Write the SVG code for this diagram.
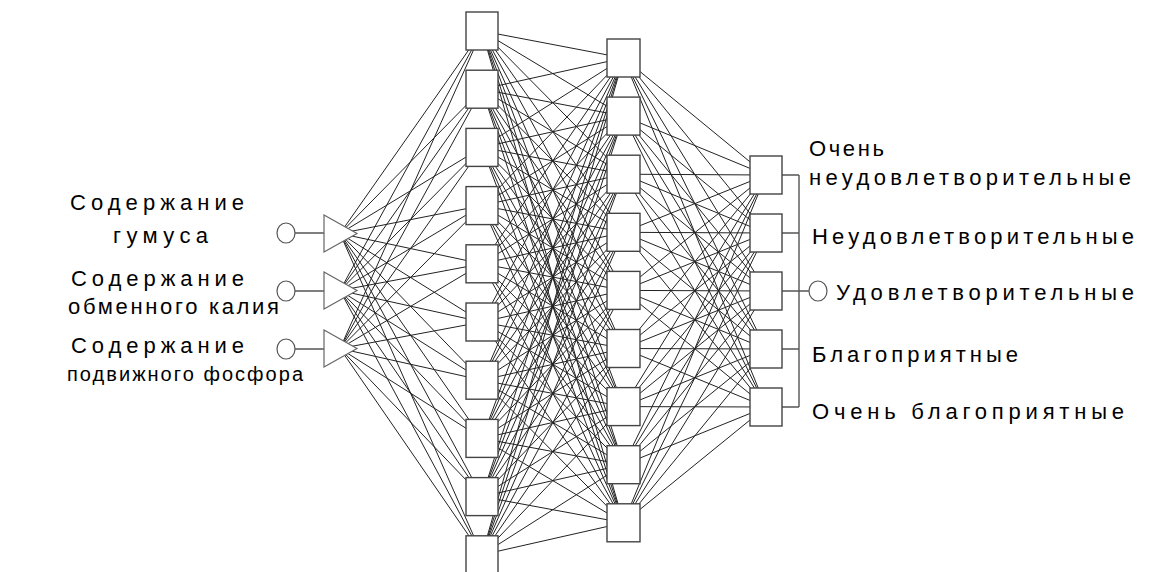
<svg xmlns="http://www.w3.org/2000/svg" width="1154" height="572" viewBox="0 0 1154 572">
<style>
.bg{fill:#fff}
.c{fill:none;stroke:#222;stroke-width:1}
.box{fill:#fff;stroke:#444;stroke-width:1.4}
.tri{fill:#fff;stroke:#666;stroke-width:1.2}
.circ{fill:#fff;stroke:#555;stroke-width:1.2}
.wire{fill:none;stroke:#555;stroke-width:1.4}
.t{font-family:"Liberation Sans",Arial,sans-serif;font-size:22px;fill:#000}
</style>
<rect class="bg" x="0" y="0" width="1154" height="572"/>
<g id="connectors">
<path class="c" d="M340 233.5L482 31M340 233.5L482 89.2M340 233.5L482 147.4M340 233.5L482 205.6M340 233.5L482 263.8M340 233.5L482 322M340 233.5L482 380.2M340 233.5L482 438.4M340 233.5L482 496.6M340 233.5L482 554.8"/>
<path class="c" d="M340 290.5L482 31M340 290.5L482 89.2M340 290.5L482 147.4M340 290.5L482 205.6M340 290.5L482 263.8M340 290.5L482 322M340 290.5L482 380.2M340 290.5L482 438.4M340 290.5L482 496.6M340 290.5L482 554.8"/>
<path class="c" d="M340 348.5L482 31M340 348.5L482 89.2M340 348.5L482 147.4M340 348.5L482 205.6M340 348.5L482 263.8M340 348.5L482 322M340 348.5L482 380.2M340 348.5L482 438.4M340 348.5L482 496.6M340 348.5L482 554.8"/>
<path class="c" d="M482 31L623.5 58M482 31L623.5 116.1M482 31L623.5 174.2M482 31L623.5 232.3M482 31L623.5 290.4M482 31L623.5 348.5M482 31L623.5 406.6M482 31L623.5 464.7M482 31L623.5 522.8"/>
<path class="c" d="M482 89.2L623.5 58M482 89.2L623.5 116.1M482 89.2L623.5 174.2M482 89.2L623.5 232.3M482 89.2L623.5 290.4M482 89.2L623.5 348.5M482 89.2L623.5 406.6M482 89.2L623.5 464.7M482 89.2L623.5 522.8"/>
<path class="c" d="M482 147.4L623.5 58M482 147.4L623.5 116.1M482 147.4L623.5 174.2M482 147.4L623.5 232.3M482 147.4L623.5 290.4M482 147.4L623.5 348.5M482 147.4L623.5 406.6M482 147.4L623.5 464.7M482 147.4L623.5 522.8"/>
<path class="c" d="M482 205.6L623.5 58M482 205.6L623.5 116.1M482 205.6L623.5 174.2M482 205.6L623.5 232.3M482 205.6L623.5 290.4M482 205.6L623.5 348.5M482 205.6L623.5 406.6M482 205.6L623.5 464.7M482 205.6L623.5 522.8"/>
<path class="c" d="M482 263.8L623.5 58M482 263.8L623.5 116.1M482 263.8L623.5 174.2M482 263.8L623.5 232.3M482 263.8L623.5 290.4M482 263.8L623.5 348.5M482 263.8L623.5 406.6M482 263.8L623.5 464.7M482 263.8L623.5 522.8"/>
<path class="c" d="M482 322L623.5 58M482 322L623.5 116.1M482 322L623.5 174.2M482 322L623.5 232.3M482 322L623.5 290.4M482 322L623.5 348.5M482 322L623.5 406.6M482 322L623.5 464.7M482 322L623.5 522.8"/>
<path class="c" d="M482 380.2L623.5 58M482 380.2L623.5 116.1M482 380.2L623.5 174.2M482 380.2L623.5 232.3M482 380.2L623.5 290.4M482 380.2L623.5 348.5M482 380.2L623.5 406.6M482 380.2L623.5 464.7M482 380.2L623.5 522.8"/>
<path class="c" d="M482 438.4L623.5 58M482 438.4L623.5 116.1M482 438.4L623.5 174.2M482 438.4L623.5 232.3M482 438.4L623.5 290.4M482 438.4L623.5 348.5M482 438.4L623.5 406.6M482 438.4L623.5 464.7M482 438.4L623.5 522.8"/>
<path class="c" d="M482 496.6L623.5 58M482 496.6L623.5 116.1M482 496.6L623.5 174.2M482 496.6L623.5 232.3M482 496.6L623.5 290.4M482 496.6L623.5 348.5M482 496.6L623.5 406.6M482 496.6L623.5 464.7M482 496.6L623.5 522.8"/>
<path class="c" d="M482 554.8L623.5 58M482 554.8L623.5 116.1M482 554.8L623.5 174.2M482 554.8L623.5 232.3M482 554.8L623.5 290.4M482 554.8L623.5 348.5M482 554.8L623.5 406.6M482 554.8L623.5 464.7M482 554.8L623.5 522.8"/>
<path class="c" d="M623.5 58L766 175M623.5 58L766 233M623.5 58L766 291M623.5 58L766 349M623.5 58L766 407"/>
<path class="c" d="M623.5 116.1L766 175M623.5 116.1L766 233M623.5 116.1L766 291M623.5 116.1L766 349M623.5 116.1L766 407"/>
<path class="c" d="M623.5 174.2L766 175M623.5 174.2L766 233M623.5 174.2L766 291M623.5 174.2L766 349M623.5 174.2L766 407"/>
<path class="c" d="M623.5 232.3L766 175M623.5 232.3L766 233M623.5 232.3L766 291M623.5 232.3L766 349M623.5 232.3L766 407"/>
<path class="c" d="M623.5 290.4L766 175M623.5 290.4L766 233M623.5 290.4L766 291M623.5 290.4L766 349M623.5 290.4L766 407"/>
<path class="c" d="M623.5 348.5L766 175M623.5 348.5L766 233M623.5 348.5L766 291M623.5 348.5L766 349M623.5 348.5L766 407"/>
<path class="c" d="M623.5 406.6L766 175M623.5 406.6L766 233M623.5 406.6L766 291M623.5 406.6L766 349M623.5 406.6L766 407"/>
<path class="c" d="M623.5 464.7L766 175M623.5 464.7L766 233M623.5 464.7L766 291M623.5 464.7L766 349M623.5 464.7L766 407"/>
<path class="c" d="M623.5 522.8L766 175M623.5 522.8L766 233M623.5 522.8L766 291M623.5 522.8L766 349M623.5 522.8L766 407"/>
<path class="wire" d="M295 233H324M295 291H324M295 349H324"/>
<path class="wire" d="M782 175H799M782 233H799M782 291H809M782 349H799M782 407H799M799 175V407"/>
</g>
<g id="in1"><ellipse class="circ" cx="286" cy="233" rx="9" ry="10"/><polygon class="tri" points="324,215 357,233.5 324,252"/><text class="t" x="70" y="210" textLength="174" lengthAdjust="spacing">Содержание</text><text class="t" x="113" y="243" textLength="95" lengthAdjust="spacing">гумуса</text></g>
<g id="in2"><ellipse class="circ" cx="286" cy="291" rx="9" ry="10"/><polygon class="tri" points="324,272 357,290.5 324,309"/><text class="t" x="71" y="286" textLength="173" lengthAdjust="spacing">Содержание</text><text class="t" x="68" y="314" textLength="211" lengthAdjust="spacing">обменного калия</text></g>
<g id="in3"><ellipse class="circ" cx="286" cy="349" rx="9" ry="10"/><polygon class="tri" points="324,330 357,348.5 324,367"/><text class="t" x="71" y="353" textLength="173" lengthAdjust="spacing">Содержание</text><text class="t" x="67" y="381" style="font-size:20px" textLength="236" lengthAdjust="spacing">подвижного фосфора</text></g>
<g id="h1">
<rect class="box" x="466" y="12" width="32" height="38"/>
<rect class="box" x="466" y="70.2" width="32" height="38"/>
<rect class="box" x="466" y="128.4" width="32" height="38"/>
<rect class="box" x="466" y="186.6" width="32" height="38"/>
<rect class="box" x="466" y="244.8" width="32" height="38"/>
<rect class="box" x="466" y="303" width="32" height="38"/>
<rect class="box" x="466" y="361.2" width="32" height="38"/>
<rect class="box" x="466" y="419.4" width="32" height="38"/>
<rect class="box" x="466" y="477.6" width="32" height="38"/>
<rect class="box" x="466" y="535.8" width="32" height="38"/>
</g>
<g id="h2">
<rect class="box" x="607" y="39" width="33" height="38"/>
<rect class="box" x="607" y="97.1" width="33" height="38"/>
<rect class="box" x="607" y="155.2" width="33" height="38"/>
<rect class="box" x="607" y="213.3" width="33" height="38"/>
<rect class="box" x="607" y="271.4" width="33" height="38"/>
<rect class="box" x="607" y="329.5" width="33" height="38"/>
<rect class="box" x="607" y="387.6" width="33" height="38"/>
<rect class="box" x="607" y="445.7" width="33" height="38"/>
<rect class="box" x="607" y="503.8" width="33" height="38"/>
</g>
<g id="out">
<rect class="box" x="750" y="156" width="32" height="38"/>
<rect class="box" x="750" y="214" width="32" height="38"/>
<rect class="box" x="750" y="272" width="32" height="38"/>
<rect class="box" x="750" y="330" width="32" height="38"/>
<rect class="box" x="750" y="388" width="32" height="38"/>
<ellipse class="circ" cx="818" cy="291" rx="9" ry="10"/>
</g>
<g id="labels">
<text class="t" x="809" y="156" textLength="75" lengthAdjust="spacing">Очень</text>
<text class="t" x="809" y="185" textLength="322" lengthAdjust="spacing">неудовлетворительные</text>
<text class="t" x="812" y="244" textLength="322" lengthAdjust="spacing">Неудовлетворительные</text>
<text class="t" x="836" y="300" textLength="298" lengthAdjust="spacing">Удовлетворительные</text>
<text class="t" x="812" y="362" textLength="206" lengthAdjust="spacing">Благоприятные</text>
<text class="t" x="812" y="419" textLength="312" lengthAdjust="spacing">Очень благоприятные</text>
</g>
</svg>
